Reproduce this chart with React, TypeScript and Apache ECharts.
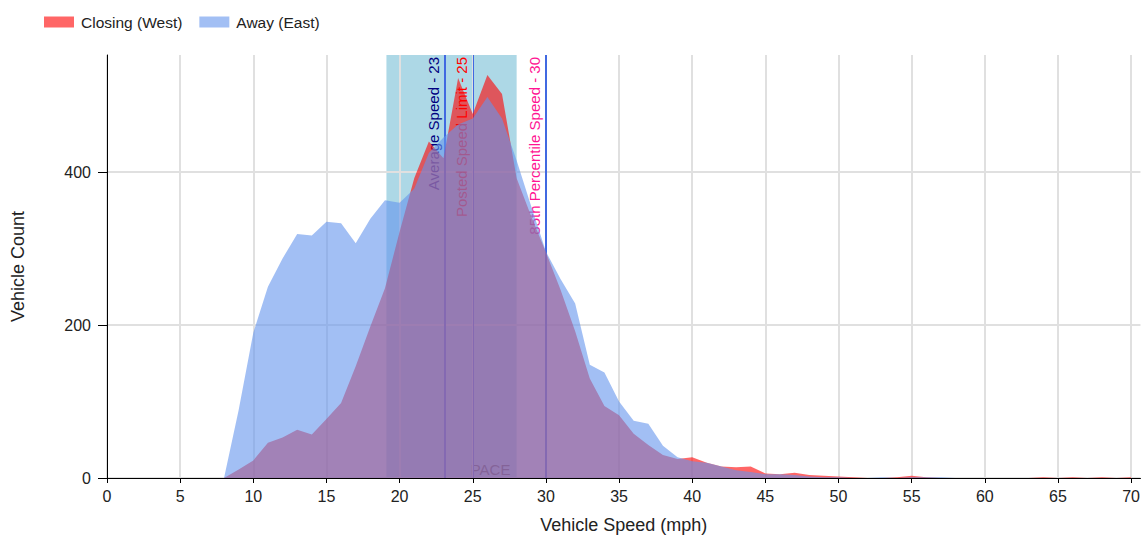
import React, { useEffect, useRef } from "react";
import * as echarts from "echarts";

// Vehicle speeds (mph) for each histogram bin
const speeds = [
  8, 9, 10, 11, 12, 13, 14, 15, 16, 17, 18, 19, 20, 21, 22, 23, 24, 25, 26, 27,
  28, 29, 30, 31, 32, 33, 34, 35, 36, 37, 38, 39, 40, 41, 42, 43, 44, 45, 46, 47,
  48, 49, 50, 51, 52, 53, 54, 55, 56, 57, 58, 59, 60, 61, 62, 63, 64, 65, 66, 67,
  68, 69, 70,
];

// Closing (West) vehicle counts
const closingWest = [
  0, 11, 23, 46, 53, 63, 57, 77, 98, 146, 198, 248, 322, 392, 440, 418, 523, 476, 527, 502,
  392, 342, 295, 246, 192, 130, 94, 82, 58, 43, 30, 25, 27, 20, 15, 14, 15, 6, 5, 7,
  4, 3, 2, 1, 0, 0, 1, 3, 1, 0, 0, 0, 0, 0, 0, 0, 1, 0, 1, 0,
  1, 0, 1,
];

// Away (East) vehicle counts
const awayEast = [
  0, 89, 190, 250, 287, 319, 317, 335, 333, 307, 339, 363, 360, 378, 425, 445, 462, 470, 498, 470,
  415, 355, 296, 260, 228, 148, 138, 100, 75, 71, 42, 27, 22, 20, 15, 10, 8, 5, 5, 4,
  2, 1, 1, 0, 0, 1, 0, 1, 1, 1, 0, 0, 0, 0, 0, 0, 0, 0, 0, 0,
  0, 0, 0,
];

const xTicks = [0, 5, 10, 15, 20, 25, 30, 35, 40, 45, 50, 55, 60, 65, 70];
const yTicks = [0, 200, 400];

const seriesNames = ["Closing (West)", "Away (East)"];

// Reference markers
const paceRange = [19.1, 28];
const paceLabel = "PACE";
const refSpeeds = [23.1, 25, 30];
const refLabels = ["Average Speed - 23", "Posted Speed Limit - 25", "85th Percentile Speed - 30"];

const X_MAX = 70.64;
const Y_MAX = 553;

export default function App() {
  const ref = useRef<HTMLDivElement>(null);

  useEffect(() => {
    if (!ref.current) return;
    const chart = echarts.init(ref.current, undefined, { renderer: "svg" });

    const font = "'Liberation Sans', Arial, sans-serif";
    const refColors = ["#000080", "#FF0000", "#FF1493"];
    const refLineWidths = [2, 1, 2];

    const option: any = {
      animation: false,
      backgroundColor: "#ffffff",
      textStyle: { fontFamily: font },
      legend: {
        left: 44,
        top: 14,
        padding: 0,
        icon: "rect",
        itemWidth: 30,
        itemHeight: 11,
        itemGap: 17,
        selectedMode: false,
        textStyle: { fontSize: 15.5, color: "#222", fontFamily: font, padding: [0, 0, 0, 2] },
        data: seriesNames,
      },
      grid: { left: 107, right: 0, top: 55, bottom: 64, containLabel: false },
      xAxis: {
        type: "value",
        min: 0,
        max: X_MAX,
        interval: 5,
        z: 1,
        name: "Vehicle Speed (mph)",
        nameLocation: "middle",
        nameGap: 38,
        nameTextStyle: { fontSize: 18, color: "#222", fontFamily: font },
        axisLine: { show: true, onZero: false, lineStyle: { color: "#000", width: 1 } },
        axisTick: { show: true, length: 5, lineStyle: { color: "#000" }, customValues: xTicks },
        axisLabel: { fontSize: 16, color: "#222", margin: 10, customValues: xTicks, fontFamily: font },
        splitLine: { show: true, lineStyle: { color: "#e0e0e0", width: 2 } },
      },
      yAxis: {
        type: "value",
        min: 0,
        max: Y_MAX,
        interval: 200,
        z: 1,
        name: "Vehicle Count",
        nameLocation: "middle",
        nameGap: 80,
        nameTextStyle: { fontSize: 18, color: "#222", fontFamily: font },
        axisLine: { show: true, lineStyle: { color: "#000", width: 1 } },
        axisTick: { show: true, length: 9, lineStyle: { color: "#000" }, customValues: yTicks },
        axisLabel: { fontSize: 16, color: "#222", margin: 16, customValues: yTicks, fontFamily: font },
        splitLine: { show: true, lineStyle: { color: "#e0e0e0", width: 2 } },
      },
      series: [
        {
          name: seriesNames[0],
          type: "line",
          z: 2,
          symbol: "none",
          showSymbol: false,
          data: speeds.map((s, i) => [s, closingWest[i]]),
          lineStyle: { width: 0, opacity: 0 },
          itemStyle: { color: "#FF6666" },
          areaStyle: { color: "rgba(255,0,0,0.6)", opacity: 1 },
          markArea: {
            silent: true,
            z: 0.5,
            itemStyle: { color: "#ADD8E6" },
            label: {
              show: true,
              position: "insideBottom",
              distance: 1,
              offset: [39, 0],
              color: "#444",
              fontSize: 15,
              fontFamily: font,
            },
            data: [[{ name: paceLabel, xAxis: paceRange[0] }, { xAxis: paceRange[1] }]],
          },
          markLine: {
            silent: true,
            z: 1.5,
            symbol: ["none", "none"],
            label: {
              show: true,
              position: "insideEndTop",
              fontSize: 15,
              fontFamily: font,
              distance: [2, 4],
            },
            data: refSpeeds.map((v, i) => [
              {
                coord: [v, 0],
                lineStyle: { color: "#4169E1", width: refLineWidths[i], type: "solid" },
                label: { formatter: refLabels[i], color: refColors[i] },
              },
              { coord: [v, Y_MAX] },
            ]),
          },
        },
        {
          name: seriesNames[1],
          type: "line",
          z: 2,
          symbol: "none",
          showSymbol: false,
          data: speeds.map((s, i) => [s, awayEast[i]]),
          lineStyle: { width: 0, opacity: 0 },
          itemStyle: { color: "#A2BFF4" },
          areaStyle: { color: "rgba(100,149,237,0.6)", opacity: 1 },
        },
      ],
    };

    chart.setOption(option);
    return () => chart.dispose();
  }, []);

  return (
    <div
      ref={ref}
      style={{ position: "fixed", left: 0, top: 0, width: 1143, height: 542, background: "#fff" }}
    />
  );
}
